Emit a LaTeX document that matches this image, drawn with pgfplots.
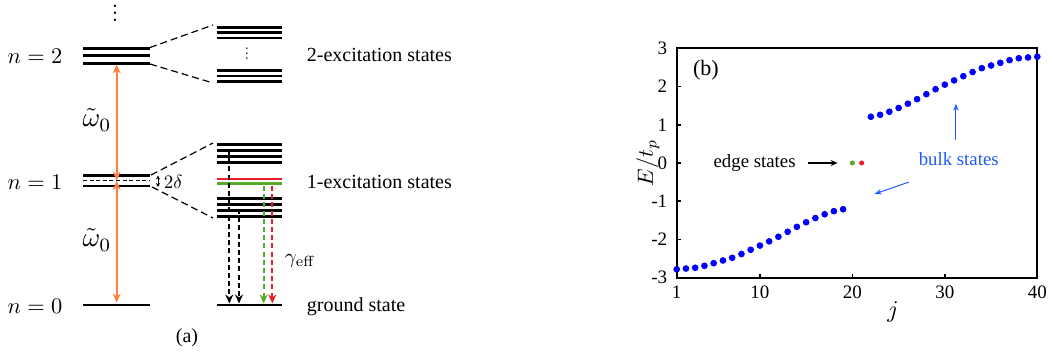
\documentclass[border=0pt]{standalone}
\usepackage[no-math]{fontspec}
\setmainfont{Liberation Serif}
\usepackage{pgfplots}
\usepackage{pgfplotstable}
\pgfplotsset{compat=1.18}
\usetikzlibrary{arrows.meta}
\definecolor{myorange}{RGB}{255,128,64}
\definecolor{mygreen}{RGB}{90,170,40}
\definecolor{myred}{RGB}{235,30,40}
\definecolor{bulkblue}{RGB}{30,90,255}
\tikzset{
  level/.style={black, line width=1.3pt},
  conn/.style={black, line width=0.6pt, dash pattern=on 3.5pt off 2pt},
  decay/.style={line width=1pt, dash pattern=on 2.5pt off 1.6pt, -{Stealth[length=4.5pt,width=4pt]}},
  mathnode/.style={font=\fontsize{10}{12}\selectfont, scale=#1}
}
\newcommand{\tightvdots}[1]{\vbox{\baselineskip#1\lineskiplimit0pt\hbox{$.$}\hbox{$.$}\hbox{$.$}}}

\pgfplotstableread{
j E
1 -2.78
2 -2.76
3 -2.74
4 -2.69
5 -2.62
6 -2.55
7 -2.48
8 -2.38
9 -2.27
10 -2.16
11 -2.05
12 -1.93
13 -1.80
14 -1.67
15 -1.55
16 -1.44
17 -1.34
18 -1.26
19 -1.21
22 1.21
23 1.26
24 1.34
25 1.44
26 1.55
27 1.67
28 1.80
29 1.93
30 2.05
31 2.16
32 2.27
33 2.38
34 2.48
35 2.55
36 2.62
37 2.69
38 2.74
39 2.76
40 2.78
}\bulk

\begin{document}
\begin{tikzpicture}
\useasboundingbox (0,0) rectangle (524.5pt,179pt);
% ---------------- panel (a) ----------------
\begin{axis}[at={(0,0)},anchor=south west, scale only axis,
  width=260pt, height=179pt, xmin=0, xmax=520, ymin=0, ymax=358,
  y dir=reverse, hide axis, clip=false,
  every node/.style={font=\fontsize{11.5}{13}\selectfont}]
% left levels
\addplot[level] coordinates {(83,48.3) (150,48.3)};
\addplot[level] coordinates {(83,55.7) (150,55.7)};
\addplot[level] coordinates {(83,63.3) (150,63.3)};
\addplot[level] coordinates {(83,175.3) (150,175.3)};
\addplot[black, line width=0.6pt, dash pattern=on 2pt off 1.3pt] coordinates {(83,180.7) (150,180.7)};
\addplot[level] coordinates {(83,186) (150,186)};
\addplot[level] coordinates {(83,305) (150,305)};
% right levels: 2-excitation
\addplot[level] coordinates {(216.5,27.3) (281.7,27.3)};
\addplot[level] coordinates {(216.5,32.7) (281.7,32.7)};
\addplot[level] coordinates {(216.5,38) (281.7,38)};
\addplot[level] coordinates {(216.5,70.5) (281.7,70.5)};
\addplot[level] coordinates {(216.5,76) (281.7,76)};
\addplot[level] coordinates {(216.5,81.5) (281.7,81.5)};
% 1-excitation
\addplot[level] coordinates {(216.5,144.3) (281.7,144.3)};
\addplot[level] coordinates {(216.5,150.3) (281.7,150.3)};
\addplot[level] coordinates {(216.5,156.7) (281.7,156.7)};
\addplot[level] coordinates {(216.5,162.7) (281.7,162.7)};
\addplot[myred, line width=1.4pt] coordinates {(216.5,179) (281.7,179)};
\addplot[mygreen, line width=1.4pt] coordinates {(216.5,183.3) (281.7,183.3)};
\addplot[level] coordinates {(216.5,198.3) (281.7,198.3)};
\addplot[level] coordinates {(216.5,204.3) (281.7,204.3)};
\addplot[level] coordinates {(216.5,210.7) (281.7,210.7)};
\addplot[level] coordinates {(216.5,216.7) (281.7,216.7)};
% ground
\addplot[level] coordinates {(216.5,305) (281.7,305)};
% connectors
\draw[conn] (150,47.5) -- (213,25);
\draw[conn] (150,64) -- (213,83);
\draw[conn] (151,175) -- (213,143);
\draw[conn] (152,187) -- (213,218);
% decay arrows
\draw[decay, black] (229.3,150) -- (229.3,303.5);
\draw[decay, black] (239,209) -- (239,303.5);
\draw[decay, mygreen] (263.7,186) -- (263.7,303.5);
\draw[decay, myred] (272.3,186) -- (272.3,303.5);
% orange arrows
\draw[myorange, line width=0.9pt, {Stealth[length=4.5pt,width=4pt]}-{Stealth[length=4.5pt,width=4pt]}] (116.7,64.5) -- (116.7,180.5);
\draw[myorange, line width=0.9pt, {Stealth[length=4.5pt,width=4pt]}-{Stealth[length=4.5pt,width=4pt]}] (116.7,181) -- (116.7,302.5);
% 2 delta
\draw[black, line width=0.5pt, {Stealth[length=2pt,width=2pt]}-{Stealth[length=2pt,width=2pt]}] (158,175.5) -- (158,187);
\node[anchor=west, inner sep=0pt, mathnode=0.95] at (163.5,181.5) {$2\delta$};
% texts
\node[inner sep=0pt, mathnode=1.15] at (115,13) {\tightvdots{3pt}};
\node[inner sep=0pt, mathnode=0.75] at (247,53.5) {\tightvdots{3.3pt}};
\node[mathnode=1.12] at (35,56) {$n=2$};
\node[mathnode=1.12] at (35,182) {$n=1$};
\node[mathnode=1.12] at (35,306.5) {$n=0$};
\node[mathnode=1.35] at (97,120) {$\tilde{\omega}_0$};
\node[mathnode=1.35] at (97,240) {$\tilde{\omega}_0$};
\node[anchor=west, inner sep=0pt, mathnode=1.05] at (284.5,261) {$\gamma_{\mathrm{eff}}$};
\node[anchor=west, inner sep=0pt] at (306.5,55) {2-excitation states};
\node[anchor=west, inner sep=0pt] at (306.5,182) {1-excitation states};
\node[anchor=base west, inner sep=0pt] at (306.5,311.7) {ground state};
\node at (187,338) {(a)};
\end{axis}
% ---------------- panel (b) ----------------
\begin{axis}[at={(338.35pt,40.15pt)}, anchor=south west, scale only axis,
  width=180.3pt, height=114.7pt,
  xmin=1, xmax=40, ymin=-3, ymax=3,
  xtick={1,10,20,30,40}, xticklabels={1,10,20,30,40},
  ytick={-3,-2,-1,0,1,2,3}, yticklabels={-3,-2,-1,0,1,2,3},
  tick align=inside, tick pos=left, major tick length=2pt,
  axis line style={line width=1pt},
  tick style={line width=0.8pt, black},
  ticklabel style={font=\fontsize{9.5}{11}\selectfont},
  yticklabel style={xshift=-1.2pt},
  xticklabel style={yshift=-0.5pt},
  clip=false]
\addplot[only marks, mark=*, mark size=1.45pt, mark options={draw=blue, fill=blue}] table[x=j, y=E] {\bulk};
\addplot[only marks, mark=*, mark size=1.05pt, mark options={draw=mygreen, fill=mygreen}] coordinates {(20,0)};
\addplot[only marks, mark=*, mark size=1.05pt, mark options={draw=myred, fill=myred}] coordinates {(21,0)};
\node[font=\fontsize{11}{13}\selectfont] at (rel axis cs:0.081,0.905) {(b)};
\node[rotate=90, mathnode=1.1] at (rel axis cs:-0.08,0.5) {$E/t_p$};
\node[mathnode=1.2] at (rel axis cs:0.6,-0.15) {$j$};
\node[anchor=east, inner sep=0pt, font=\fontsize{9.4}{11}\selectfont] at (axis cs:13.9,0) {edge states};
\draw[black, line width=0.6pt, -{Stealth[length=3.5pt,width=3pt]}] (axis cs:15.2,0) -- (axis cs:18.4,0);
\node[inner sep=0pt, text=bulkblue, font=\fontsize{9.4}{11}\selectfont] at (axis cs:31.5,0.1) {bulk states};
\draw[bulkblue, line width=0.5pt, -{Stealth[length=3.5pt,width=2.6pt]}] (axis cs:31.2,0.6) -- (axis cs:31.2,1.55);
\draw[bulkblue, line width=0.5pt, -{Stealth[length=3.5pt,width=2.6pt]}] (axis cs:26.1,-0.5) -- (axis cs:22.4,-0.81);
\end{axis}
\end{tikzpicture}
\end{document}
